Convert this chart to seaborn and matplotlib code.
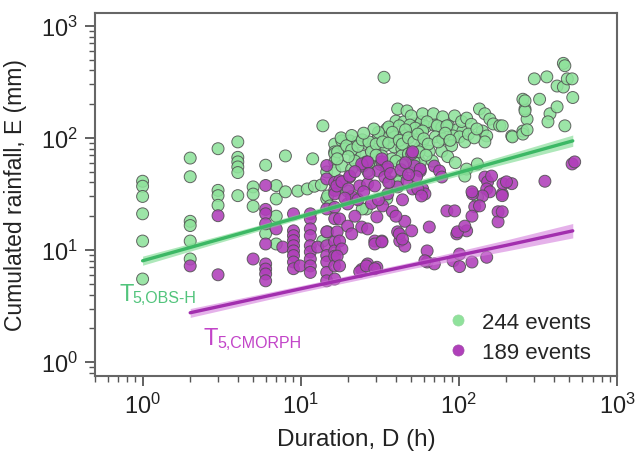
import numpy as np
import pandas as pd
import matplotlib
matplotlib.use("Agg")
import matplotlib.pyplot as plt
import seaborn as sns

# ---------------- data ----------------
green_D = [1, 1, 1, 1, 1, 1,
           2, 2, 2, 2, 2, 2,
           3, 3, 3, 3,
           4, 4, 4, 4, 4, 4,
           5, 5, 5,
           6, 6,
           7, 7, 7, 7,
           8, 8, 9.6, 11, 12.2, 13.5, 11.9, 13.8,
           13.8, 14.8, 14.6, 14.6,
           16.4, 16.4, 16.4, 16.4, 16.4,
           18.2, 18.2, 20.4, 23, 26.5, 26.5, 28.6, 19, 17.1, 22, 24.3, 21, 19.8, 26, 36.6, 52.4, 43.6,
           34, 39, 43.6, 50, 57,
           32.6, 37.7, 43.6, 47.5, 55,
           35, 31, 34, 39, 45, 54,
           40, 45, 52, 58,
           41, 47, 50,
           33.6,
           59, 69, 79, 94,
           36, 42, 49, 53, 62, 70, 78, 86, 97,
           135, 146, 157, 165, 181, 141, 150, 146,
           216, 254, 270, 262, 254,
           324, 377, 366, 418, 468, 525,
           300, 360, 418, 458, 485, 520, 458, 468,
           188, 218, 254, 270, 262, 262,
           63, 73, 84, 106, 59, 71, 79, 92, 101, 59, 65, 78, 90, 109,
           68, 112, 131, 109, 131, 57,
           14.8, 15.3, 24.5, 22.8, 35, 41, 49, 52,
           18, 19.5, 21, 21, 23, 24.5, 27, 28, 30, 31, 33, 36, 38, 42, 44, 46, 48, 52, 55, 60,
           64, 74, 82, 88, 104, 112, 120, 115, 125, 130,
           27, 30, 32, 40, 44, 48, 56, 62, 85, 95, 29, 25, 22, 20, 17]
green_E = [41, 37, 30, 21, 12, 5.5,
           66, 45, 18, 16.5, 12, 8.3,
           80, 34, 30.5, 25,
           92, 67, 61, 55, 49, 30.5,
           36.5, 31.5, 24.5,
           57, 14,
           37.5, 28.5, 20, 11.3,
           69, 33, 33.5, 35, 37, 38, 65, 128,
           12, 14.5, 28.6, 49.6,
           88, 75, 72, 61, 51,
           94, 56, 94, 92, 88, 50.6, 80, 80, 75, 72, 69, 52.6, 33.5, 23.2, 40.5, 55, 47,
           85, 83, 80, 76, 83,
           69, 65, 69, 65, 67,
           120, 104, 98, 102, 104, 113,
           141, 139, 133, 139,
           181, 174, 157,
           347,
           164, 164, 154, 157,
           125, 128, 130, 122, 126, 130, 124, 128, 118,
           181, 164, 147, 133, 128, 115, 104, 92,
           104, 115, 147, 181, 221,
           221, 164, 139, 189, 128, 229,
           336, 350, 290, 284, 336, 336, 462, 440,
           128, 102, 108, 118, 174, 214,
           139, 128, 128, 115, 115, 102, 98, 104, 102, 92, 76, 76, 85, 92,
           62, 52.6, 58.5, 45.6, 29.6, 60,
           30.3, 24.7, 23.2, 28.6, 28.6, 40.5, 55, 61,
           100, 85, 78, 105, 84, 96, 92, 75, 88, 112, 92, 90, 112, 95, 88, 118, 100, 92, 108, 98,
           88, 92, 110, 95, 140, 150, 132, 108, 100, 120,
           60, 70, 58, 62, 57, 72, 75, 70, 68, 60, 120, 110, 62, 68, 65]

purple_D = [2, 3, 3, 5,
            6, 6, 6, 6, 6, 6, 6, 6, 6,
            7, 7.7,
            9, 9, 9, 9, 9, 9, 9, 9, 9, 9.9,
            11.5, 11.5, 11.5, 11.5, 11.5, 11.5, 11.5, 11.5, 11.5, 12.8,
            14.6, 14.6, 14.6, 14.6, 14.6, 14.6, 14.6, 14.6, 14.6,
            16.4, 16.4, 16.4, 16.4, 16.4, 16.4, 16.4, 16.4, 16.4, 16.4,
            26, 32.6, 35, 24.6, 20.4, 17.6, 16.9,
            50.3, 52.4, 57, 24.3, 26.5, 32.6, 35.5, 30.9, 18.2, 20.4, 23.6, 26.5, 29.4, 34, 41, 47, 51,
            35.5, 33, 44, 19.8, 17.6, 19.8, 22, 24.3, 26.5, 30.3, 17, 17.6, 18.2, 17, 17.6,
            29.4, 32.6, 41, 45.5, 50.3, 42.3, 45.5, 24.3, 26.5, 30.3,
            21, 23.6, 26, 29.4, 29.4, 32.6, 42, 44, 63, 63, 70, 92, 101, 101, 121, 150, 97, 112,
            70, 75.5, 78, 57, 59, 61, 146, 152, 150, 157, 141, 188, 122, 84, 94, 126, 121, 65, 98, 109,
            177, 177, 61,
            161, 121, 135, 190, 216, 188, 350, 520, 540, 51, 55, 58, 200, 188,
            21, 23, 25, 28, 31, 36, 38, 40, 27, 22, 20, 19, 37, 43, 46, 54, 48]
purple_E = [7.2, 20.2, 6.0, 8.3,
            37.6, 23, 21, 17.1, 11.3, 7.5, 6.75, 6.1, 5.3,
            15.4, 10.6,
            21, 14.8, 13.4, 12.1, 10.9, 9.8, 8.9, 7.8, 6.8, 7.2,
            21, 19, 15.4, 13.4, 10.9, 9.6, 8.3, 7.2, 6.3, 10.6,
            56.6, 43, 23.2, 14.5, 10.9, 8.9, 7.8, 6.3, 5.3,
            40, 34, 31.6, 24, 19, 11.8, 9.8, 8.8, 7.2, 5.5,
            61, 61, 52.6, 56, 44.7, 41.4, 37.2,
            72, 56, 50.6, 58.5, 61, 65, 55, 50.6, 40.5, 45.6, 37.2, 38.9, 37.2, 44.7, 36.5, 41.4, 35,
            31.6, 24.7, 28, 25.7, 18.9, 16.3, 20, 16, 15.4, 19.7, 14.5, 12, 10.2, 8.8, 7.2,
            12, 12, 14.5, 18, 14.8, 12, 10.8, 6.7, 7.5, 7,
            13.9, 6.4, 7.2, 6.8, 11.3, 11.8, 13.9, 12.5, 9.8, 7.8, 7.5, 8, 7.1, 9.2, 7.8, 8.6, 13.9, 14.8,
            56, 50.6, 44.7, 52.6, 35, 31.6, 44.7, 40.5, 35, 33, 30.3, 31.6, 31.6, 22.3, 22.3, 24.3, 20, 16, 14.5, 16.3,
            21.9, 17.8, 8,
            45.6, 33, 24.7, 39, 39, 30.5, 41, 58.5, 61, 75, 35, 30.3, 40.5, 21.9,
            30, 28, 33, 26, 28, 40, 22, 20, 48, 50, 35, 29, 48, 52, 60, 45, 47]

# power-law threshold curves and their confidence bands
obs_D = [1, 5, 20, 100, 525]
obs_E = [8.0, 15.1, 26, 49, 94]
obs_lo = [7.3, 14.3, 25, 46, 84]
obs_hi = [8.8, 16.1, 28, 53, 106]

cm_D = [2, 10, 50, 200, 525]
cm_E = [2.75, 4.5, 7.3, 11, 14.8]
cm_lo = [2.5, 4.2, 6.8, 9.8, 12.8]
cm_hi = [3.0, 4.8, 7.8, 12.3, 17.2]

labels = ["244 events", "189 events"]

# ---------------- figure ----------------
sns.set_style("ticks")
plt.rcParams["font.family"] = ["Liberation Sans", "DejaVu Sans"]
plt.rcParams["mathtext.fontset"] = "custom"
plt.rcParams["mathtext.rm"] = "Liberation Sans"
plt.rcParams["mathtext.it"] = "Liberation Sans"

W, H = 641, 456
fig = plt.figure(figsize=(W / 100, H / 100), dpi=100)
ax = fig.add_axes([95 / W, 1 - 377 / H, (617 - 95) / W, (377 - 14) / H])

df = pd.DataFrame({
    "D": green_D + purple_D,
    "E": green_E + purple_E,
    "group": [labels[0]] * len(green_D) + [labels[1]] * len(purple_D),
})

green_face = "#8fe29b"
purple_face = "#b03fba"

sns.scatterplot(data=df, x="D", y="E", hue="group",
                palette={labels[0]: green_face, labels[1]: purple_face},
                s=74, edgecolor="#505050", linewidth=0.7, alpha=0.88,
                ax=ax, legend=False, zorder=3)

ax.set_xscale("log")
ax.set_yscale("log")

# bands + lines
ax.fill_between(obs_D, obs_lo, obs_hi, color="#78d98c", alpha=0.6, lw=0, zorder=4)
sns.lineplot(x=obs_D, y=obs_E, color="#3cb865", lw=2.4, ax=ax, zorder=5)
ax.fill_between(cm_D, cm_lo, cm_hi, color="#d57fdc", alpha=0.6, lw=0, zorder=4)
sns.lineplot(x=cm_D, y=cm_E, color="#a22fae", lw=2.4, ax=ax, zorder=5)

ax.set_xlim(0.5, 1000)
ax.set_ylim(0.75, 1300)

ax.set_xlabel("Duration, D (h)", fontsize=17.5, color="#222222", labelpad=7)
ax.set_ylabel("Cumulated rainfall, E (mm)", fontsize=16.5, color="#222222", labelpad=10)

for sp in ax.spines.values():
    sp.set_color("#666666")
    sp.set_linewidth(1.5)

ax.tick_params(which="major", direction="out", length=7, width=1.3, color="#555555",
               labelsize=17, labelcolor="#222222", top=False, right=False, pad=5)
ax.tick_params(which="minor", direction="out", length=4, width=1.0, color="#555555",
               top=False, right=False)
ax.xaxis.set_major_locator(matplotlib.ticker.LogLocator(base=10, numticks=10))
ax.yaxis.set_major_locator(matplotlib.ticker.LogLocator(base=10, numticks=10))
ax.xaxis.set_minor_locator(matplotlib.ticker.LogLocator(base=10, subs=np.arange(2, 10), numticks=20))
ax.yaxis.set_minor_locator(matplotlib.ticker.LogLocator(base=10, subs=np.arange(2, 10), numticks=20))
ax.xaxis.set_minor_formatter(matplotlib.ticker.NullFormatter())
ax.yaxis.set_minor_formatter(matplotlib.ticker.NullFormatter())

# threshold labels
def ptext(x, y, s, **kw):
    fig.text(x / W, 1 - y / H, s, va="baseline", ha="left", **kw)

ptext(119, 301, "T", fontsize=17, color="#52c47c")
ptext(132, 303, "5,OBS-H", fontsize=11.5, color="#52c47c")
ptext(204, 345, "T", fontsize=17, color="#c244c8")
ptext(217, 348, "5,CMORPH", fontsize=11.5, color="#c244c8")

# legend
from matplotlib.lines import Line2D
handles = [Line2D([], [], ls="", marker="o", ms=8, mfc=green_face, mec="#9ad8a2", mew=0.5),
           Line2D([], [], ls="", marker="o", ms=8, mfc=purple_face, mec="#a050a8", mew=0.5)]
leg = ax.legend(handles, labels, loc="lower right", frameon=False, fontsize=16,
                handlelength=1.0, handletextpad=0.6, labelspacing=0.4, borderaxespad=0.0,
                bbox_to_anchor=(0.967, 0.012))

fig.savefig("out.png", dpi=100)
